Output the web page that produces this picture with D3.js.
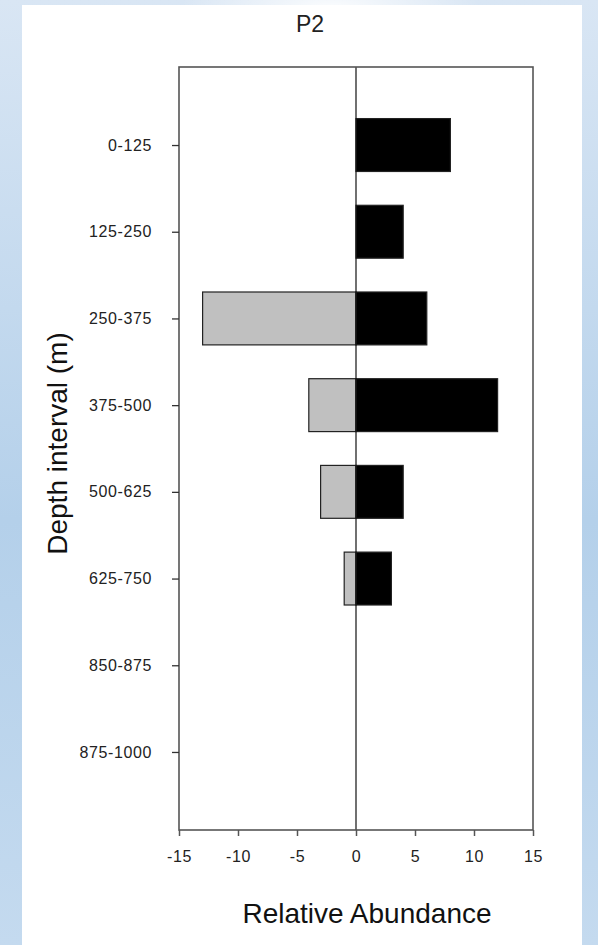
<!DOCTYPE html>
<html>
<head>
<meta charset="utf-8">
<script src="https://cdn.jsdelivr.net/npm/d3@7"></script>
<style>
  html, body { margin: 0; padding: 0; }
  body { width: 598px; height: 945px; overflow: hidden; }
  svg { display: block; font-family: "Liberation Sans", Arial, sans-serif; }
</style>
</head>
<body>
<svg id="chart" width="598" height="945"></svg>
<script>
// Depth intervals (top to bottom) and relative abundance per interval
const depthIntervals = ["0-125", "125-250", "250-375", "375-500", "500-625", "625-750", "850-875", "875-1000"];
const positiveValues = [8, 4, 6, 12, 4, 3, 0, 0];
const negativeValues = [0, 0, -13, -4, -3, -1, 0, 0];
const xTickValues = [-15, -10, -5, 0, 5, 10, 15];

const svg = d3.select("#chart");
const W = 598, H = 945;
const FONT = "'Liberation Sans', Arial, sans-serif";

// Page backdrop: blue gradient with a white sheet on top
const defs = svg.append("defs");
const bg = defs.append("linearGradient").attr("id", "bgGrad")
  .attr("x1", 0).attr("y1", 0).attr("x2", 0).attr("y2", 1);
bg.append("stop").attr("offset", "0%").attr("stop-color", "#d9e6f4");
bg.append("stop").attr("offset", "55%").attr("stop-color", "#b4d0ea");
bg.append("stop").attr("offset", "100%").attr("stop-color", "#c4daef");
const glow = defs.append("radialGradient").attr("id", "glow")
  .attr("cx", 0.5).attr("cy", 0.5).attr("r", 0.5);
glow.append("stop").attr("offset", "0%").attr("stop-color", "#ffffff").attr("stop-opacity", 0.9);
glow.append("stop").attr("offset", "100%").attr("stop-color", "#ffffff").attr("stop-opacity", 0);

svg.append("rect").attr("width", W).attr("height", H).attr("fill", "url(#bgGrad)");
svg.append("ellipse").attr("cx", 330).attr("cy", 8).attr("rx", 150).attr("ry", 40).attr("fill", "url(#glow)");
svg.append("rect").attr("x", 22).attr("y", 5).attr("width", 560).attr("height", H - 5).attr("fill", "#ffffff");

// Plot area
const plot = { left: 179, right: 533, top: 67, bottom: 830 };

const x = d3.scaleLinear().domain([-15, 15]).range([plot.left, plot.right]);
const y = d3.scalePoint().domain(depthIntervals).range([plot.top, plot.bottom]).padding(0.9);
const barH = y.step() * 0.61;

const g = svg.append("g");

// Bars: grey for negative side, black for positive side
g.selectAll("rect.neg")
  .data(depthIntervals.map((d, i) => ({ d, v: negativeValues[i] })).filter(o => o.v !== 0))
  .join("rect")
  .attr("class", "neg")
  .attr("x", o => x(o.v))
  .attr("y", o => y(o.d) - barH / 2)
  .attr("width", o => x(0) - x(o.v))
  .attr("height", barH)
  .attr("fill", "#c0c0c0")
  .attr("stroke", "#222")
  .attr("stroke-width", 1.2);

g.selectAll("rect.pos")
  .data(depthIntervals.map((d, i) => ({ d, v: positiveValues[i] })).filter(o => o.v !== 0))
  .join("rect")
  .attr("class", "pos")
  .attr("x", x(0))
  .attr("y", o => y(o.d) - barH / 2)
  .attr("width", o => x(o.v) - x(0))
  .attr("height", barH)
  .attr("fill", "#000")
  .attr("stroke", "#222")
  .attr("stroke-width", 1.2);

// Zero line
g.append("line")
  .attr("x1", x(0)).attr("x2", x(0))
  .attr("y1", plot.top).attr("y2", plot.bottom)
  .attr("stroke", "#111").attr("stroke-width", 1.2);

// Frame
g.append("rect")
  .attr("x", plot.left).attr("y", plot.top)
  .attr("width", plot.right - plot.left).attr("height", plot.bottom - plot.top)
  .attr("fill", "none").attr("stroke", "#555").attr("stroke-width", 1.6);

// Y axis
const yAxis = svg.append("g")
  .attr("transform", `translate(${plot.left},0)`)
  .call(d3.axisLeft(y).tickSize(7).tickPadding(20));
yAxis.select(".domain").remove();
yAxis.selectAll(".tick line").attr("stroke", "#333").attr("stroke-width", 1.3);
yAxis.selectAll(".tick text")
  .attr("font-size", 16).attr("fill", "#222")
  .attr("letter-spacing", 0.6)
  .style("font-family", FONT);

// X axis (plain hyphen for negative numbers)
const xAxis = svg.append("g")
  .attr("transform", `translate(0,${plot.bottom})`)
  .call(d3.axisBottom(x).tickValues(xTickValues).tickFormat(d => String(d)).tickSize(6).tickPadding(15));
xAxis.select(".domain").remove();
xAxis.selectAll(".tick line").attr("stroke", "#555").attr("stroke-width", 1.5);
xAxis.selectAll(".tick text")
  .attr("font-size", 16).attr("fill", "#222")
  .attr("letter-spacing", 0.6)
  .style("font-family", FONT);

// Titles
svg.append("text")
  .attr("x", 310).attr("y", 32)
  .attr("text-anchor", "middle")
  .attr("font-size", 23).attr("fill", "#222")
  .text("P2");

svg.append("text")
  .attr("transform", `translate(67,${(plot.top + plot.bottom) / 2 - 5}) rotate(-90)`)
  .attr("text-anchor", "middle")
  .attr("font-size", 28).attr("fill", "#111")
  .text("Depth interval (m)");

svg.append("text")
  .attr("x", 367).attr("y", 923)
  .attr("text-anchor", "middle")
  .attr("font-size", 28).attr("fill", "#111")
  .text("Relative Abundance");
</script>
</body>
</html>
